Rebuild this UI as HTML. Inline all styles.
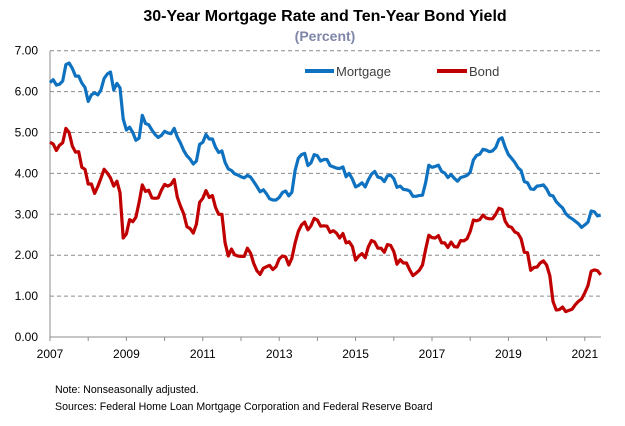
<!DOCTYPE html>
<html><head><meta charset="utf-8"><style>
body{margin:0;background:#fff;font-family:"Liberation Sans",sans-serif}
</style></head><body>
<svg width="625" height="421" viewBox="0 0 625 421" id="c" font-family="Liberation Sans, sans-serif">
<text x="325" y="21" text-anchor="middle" font-size="16" font-weight="bold" fill="#000">30-Year Mortgage Rate and Ten-Year Bond Yield</text>
<text x="325" y="41" text-anchor="middle" font-size="14" font-weight="bold" fill="#7f86a8">(Percent)</text>
<g id="grid"></g><g id="yt"></g><g id="xt"></g><g id="lines"></g>
<g>
<line x1="305" y1="71" x2="334" y2="71" stroke="#0f72c0" stroke-width="4"/>
<text x="336" y="76" font-size="13" fill="#404040">Mortgage</text>
<line x1="437" y1="71" x2="467" y2="71" stroke="#c00000" stroke-width="4"/>
<text x="469" y="76" font-size="13" fill="#404040">Bond</text>
</g>
<text x="55" y="393" font-size="10.6" fill="#000">Note: Nonseasonally adjusted.</text>
<text x="55" y="410" font-size="10.6" fill="#000">Sources: Federal Home Loan Mortgage Corporation and Federal Reserve Board</text>
</svg>
<script>
const yTicks=[0,1,2,3,4,5,6,7];
const xTickYears=[2007,2009,2011,2013,2015,2017,2019,2021];
const startYear=2007;
const mortgage=[6.22,6.29,6.16,6.18,6.26,6.66,6.70,6.57,6.38,6.38,6.21,6.10,
5.76,5.92,5.97,5.92,6.04,6.32,6.43,6.48,6.04,6.20,6.09,5.33,
5.06,5.13,5.00,4.81,4.86,5.42,5.22,5.19,5.06,4.95,4.88,4.93,
5.03,4.99,4.97,5.10,4.89,4.74,4.56,4.43,4.35,4.23,4.30,4.71,
4.76,4.95,4.84,4.84,4.64,4.51,4.55,4.27,4.11,4.07,3.99,3.96,
3.92,3.89,3.95,3.91,3.80,3.68,3.55,3.60,3.50,3.38,3.35,3.35,
3.41,3.53,3.57,3.45,3.54,4.07,4.37,4.46,4.49,4.19,4.26,4.46,
4.43,4.30,4.34,4.34,4.19,4.16,4.13,4.12,4.16,3.92,4.00,3.86,
3.67,3.71,3.77,3.67,3.84,3.98,4.05,3.91,3.89,3.80,3.94,3.96,
3.87,3.66,3.69,3.61,3.60,3.57,3.44,3.44,3.46,3.47,3.77,4.20,
4.15,4.17,4.20,4.05,4.01,3.90,3.97,3.88,3.81,3.90,3.92,3.95,
4.03,4.33,4.44,4.47,4.59,4.57,4.53,4.55,4.63,4.83,4.87,4.64,
4.46,4.37,4.27,4.14,4.07,3.80,3.77,3.62,3.61,3.69,3.70,3.72,
3.62,3.47,3.45,3.31,3.23,3.16,3.02,2.94,2.89,2.83,2.77,2.68,
2.74,2.81,3.08,3.06,2.96,2.98];
const bond=[4.76,4.72,4.56,4.69,4.75,5.10,5.00,4.67,4.52,4.53,4.15,4.10,
3.74,3.74,3.51,3.68,3.88,4.10,4.01,3.89,3.69,3.81,3.53,2.42,
2.52,2.87,2.82,2.93,3.29,3.72,3.56,3.59,3.40,3.39,3.40,3.59,
3.73,3.69,3.73,3.85,3.42,3.20,3.01,2.70,2.65,2.54,2.76,3.29,
3.39,3.58,3.41,3.46,3.17,3.00,3.00,2.30,1.98,2.15,2.01,1.98,
1.97,1.97,2.17,2.05,1.80,1.62,1.53,1.68,1.72,1.75,1.65,1.72,
1.91,1.98,1.96,1.76,1.93,2.30,2.58,2.74,2.81,2.62,2.72,2.90,
2.86,2.71,2.72,2.71,2.56,2.60,2.54,2.42,2.53,2.30,2.33,2.21,
1.88,1.98,2.04,1.94,2.20,2.36,2.32,2.17,2.17,2.07,2.26,2.24,
2.09,1.78,1.89,1.81,1.81,1.64,1.50,1.56,1.63,1.76,2.14,2.49,
2.43,2.42,2.48,2.30,2.30,2.19,2.32,2.21,2.20,2.36,2.35,2.40,
2.58,2.86,2.84,2.87,2.98,2.91,2.89,2.89,3.00,3.15,3.12,2.83,
2.71,2.68,2.57,2.53,2.40,2.07,2.06,1.63,1.70,1.71,1.81,1.86,
1.76,1.50,0.87,0.66,0.67,0.73,0.62,0.65,0.68,0.79,0.87,0.93,
1.08,1.26,1.61,1.64,1.62,1.52];
const NS="http://www.w3.org/2000/svg";
const X=yr=>50+(yr-2007)*38.2;
const Y=v=>337-v*40.9;
function mk(t,a,p){const e=document.createElementNS(NS,t);for(const k in a)e.setAttribute(k,a[k]);p.appendChild(e);return e;}
const g=document.getElementById('grid'),yt=document.getElementById('yt'),xt=document.getElementById('xt'),ln=document.getElementById('lines');
yTicks.forEach(v=>{
 if(v>0){const l=mk('line',{x1:50,x2:601,y1:Y(v),y2:Y(v),stroke:'#8c8c8c','stroke-width':1,'stroke-dasharray':'4,3'},g);
 
 }
 const t=mk('text',{x:38,y:Y(v)+4,'text-anchor':'end','font-size':12,fill:'#000'},yt);t.textContent=v.toFixed(2);
 
 
});
const ax=mk('line',{x1:50,x2:50,y1:51,y2:337,stroke:'#8c8c8c','stroke-width':1},g);


const xa=mk('line',{x1:50,x2:601,y1:337,y2:337,stroke:'#8c8c8c','stroke-width':1},g);


for(let yr=2007;yr<=2021;yr++){const tk=mk('line',{x1:X(yr),x2:X(yr),y1:337,y2:341,stroke:'#8c8c8c'},g);

}
xTickYears.forEach(yr=>{const t=mk('text',{x:X(yr),y:358,'text-anchor':'middle','font-size':12,fill:'#000'},xt);t.textContent=yr;
 
 });
function series(arr,col,name){const pts=arr.map((v,i)=>X(startYear+i/12).toFixed(1)+','+Y(v).toFixed(1)).join(' ');
 const p=mk('polyline',{points:pts,fill:'none',stroke:col,'stroke-width':3.2,'stroke-linejoin':'round'},ln);
 
 }
series(mortgage,'#0f72c0','mortgage-line');
series(bond,'#c00000','bond-line');
</script>
</body></html>
